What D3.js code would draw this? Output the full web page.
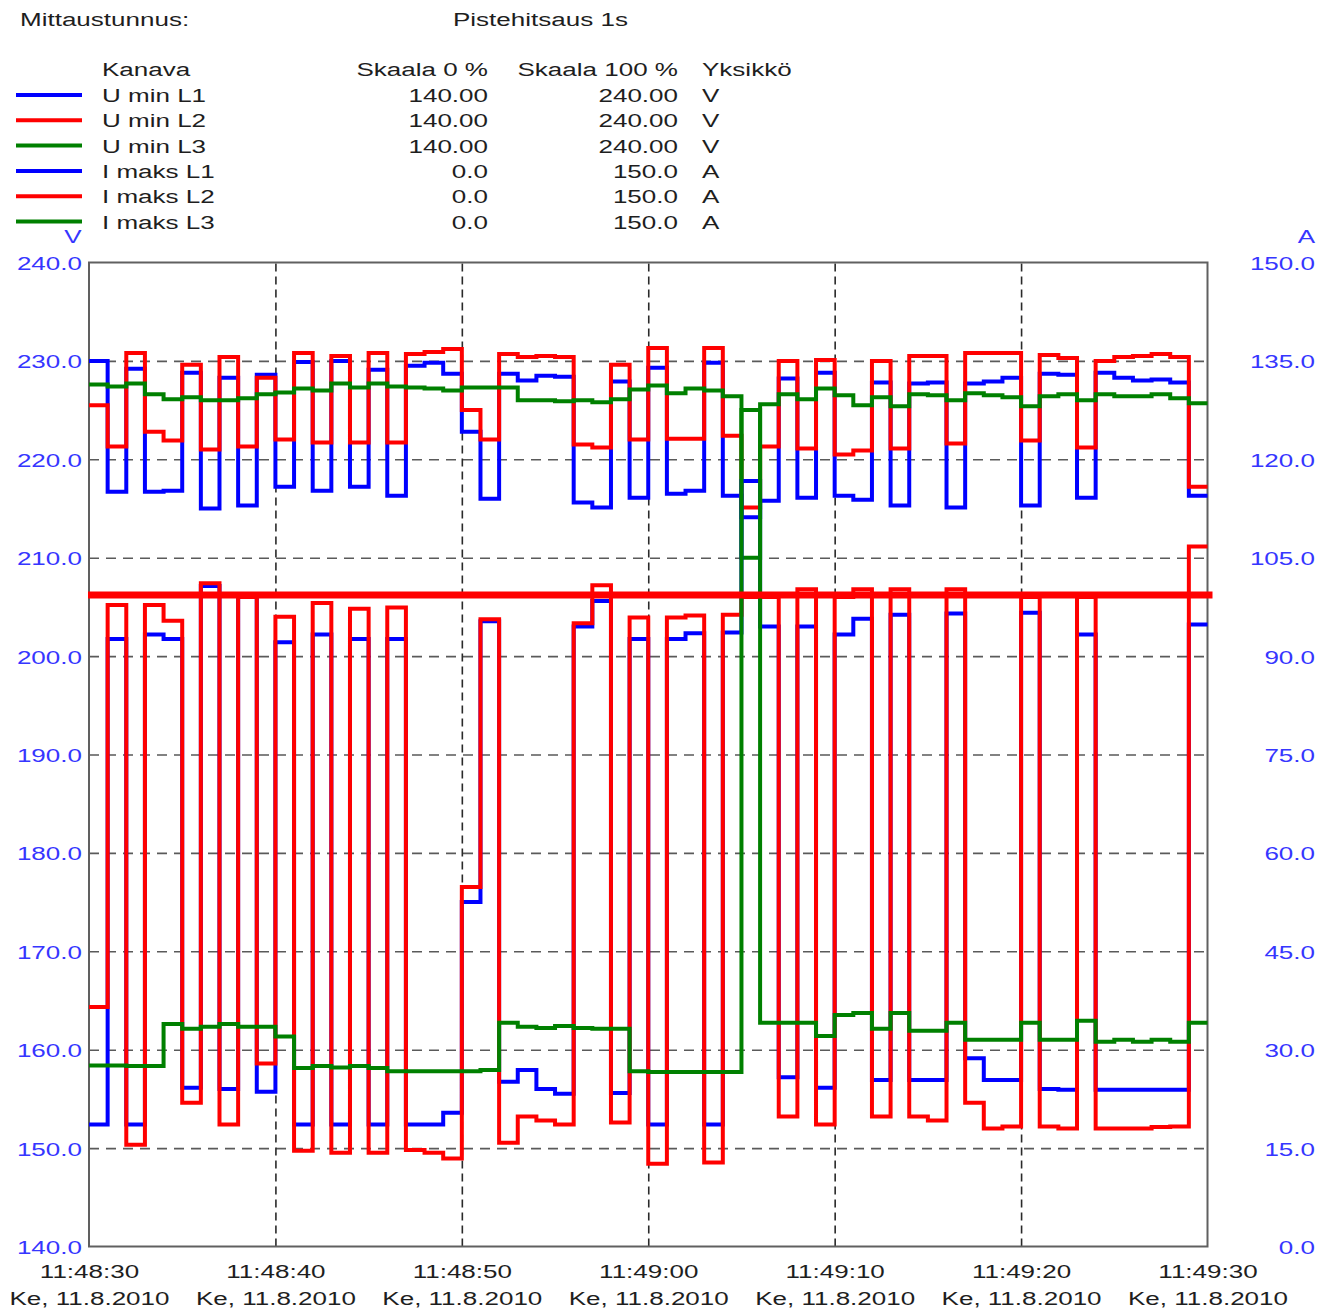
<!DOCTYPE html>
<html>
<head>
<meta charset="utf-8">
<script src="https://cdn.jsdelivr.net/npm/d3@7"></script>
<style>
  body { margin: 0; background: #fff; }
  svg { display: block; font-family: "Liberation Sans", Arial, sans-serif; font-size: 19px; }
</style>
</head>
<body>
<div id="chart"></div>
<script>
// one sample per second, starting 11:48:30
const seconds = d3.range(0, 60);

// voltages (V)
const uMinL1 = [230.0, 216.7, 229.2, 216.7, 216.8, 228.8, 215.0, 228.3, 215.3, 228.6,
  217.2, 229.9, 216.8, 230.0, 217.2, 229.1, 216.3, 229.5, 229.8, 228.7,
  222.8, 216.0, 228.7, 228.0, 228.5, 228.4, 215.6, 215.1, 227.9, 216.1,
  229.3, 216.5, 216.8, 229.8, 216.3, 214.1, 215.8, 228.2, 216.1, 228.8,
  216.3, 215.9, 227.8, 215.3, 227.7, 227.8, 215.1, 227.7, 227.9, 228.3,
  215.3, 228.7, 228.6, 216.1, 228.8, 228.3, 228.0, 228.1, 227.8, 216.3];
const uMinL2 = [225.5, 221.3, 230.8, 222.8, 221.9, 229.6, 221.0, 230.4, 221.3, 228.3,
  222.0, 230.8, 221.7, 230.5, 221.7, 230.8, 221.7, 230.7, 230.9, 231.2,
  225.0, 222.0, 230.7, 230.4, 230.5, 230.4, 221.5, 221.2, 229.6, 222.0,
  231.3, 222.1, 222.1, 231.3, 222.4, 215.1, 221.3, 230.0, 221.1, 230.1,
  220.5, 220.9, 230.0, 221.1, 230.5, 230.5, 221.6, 230.8, 230.8, 230.8,
  221.9, 230.6, 230.3, 221.2, 230.0, 230.4, 230.5, 230.7, 230.4, 217.2];
const uMinL3 = [227.6, 227.4, 227.7, 226.6, 226.1, 226.3, 226.0, 226.0, 226.2, 226.6,
  226.8, 227.2, 227.0, 227.7, 227.3, 227.7, 227.4, 227.3, 227.2, 227.0,
  227.3, 227.3, 227.3, 226.0, 226.0, 225.9, 226.0, 225.8, 226.1, 227.1,
  227.5, 226.7, 227.2, 227.0, 226.4, 210.0, 225.6, 226.6, 226.1, 227.2,
  226.5, 225.5, 226.3, 225.4, 226.6, 226.5, 226.0, 226.7, 226.5, 226.3,
  225.4, 226.4, 226.6, 226.0, 226.6, 226.4, 226.4, 226.6, 226.2, 225.7];

// currents (A)
const iMaksL1 = [18.6, 92.6, 18.6, 93.3, 92.6, 24.2, 100.7, 24.0, 99.0, 23.6,
  92.1, 18.6, 93.3, 18.6, 92.6, 18.6, 92.6, 18.6, 18.6, 20.4,
  52.5, 95.3, 25.1, 26.9, 24.0, 23.3, 94.5, 98.4, 23.4, 92.6,
  18.6, 92.6, 93.5, 18.6, 93.6, 116.7, 94.5, 25.8, 94.5, 24.2,
  93.3, 95.7, 25.4, 96.3, 25.4, 25.4, 96.5, 28.7, 25.4, 25.4,
  96.6, 24.0, 23.9, 93.3, 23.9, 23.9, 23.9, 23.9, 23.9, 94.8];
const iMaksL2 = [36.5, 97.8, 15.5, 97.8, 95.4, 21.9, 101.1, 18.6, 99.0, 27.9,
  96.0, 14.6, 98.1, 14.3, 97.2, 14.3, 97.4, 14.7, 14.3, 13.4,
  54.8, 95.6, 15.8, 19.8, 19.2, 18.6, 95.0, 100.8, 18.9, 95.9,
  12.6, 95.9, 96.2, 12.8, 96.3, 99.0, 99.0, 19.8, 100.2, 18.6,
  99.0, 100.2, 19.8, 100.2, 19.8, 19.2, 100.2, 21.9, 18.0, 18.3,
  99.0, 18.3, 18.0, 99.0, 18.0, 18.0, 18.0, 18.2, 18.3, 106.7];
const iMaksL3 = [27.6, 27.6, 27.5, 27.5, 33.9, 33.2, 33.5, 33.9, 33.5, 33.5,
  32.0, 27.2, 27.5, 27.3, 27.5, 27.2, 26.7, 26.7, 26.7, 26.7,
  26.7, 26.9, 34.1, 33.5, 33.3, 33.6, 33.3, 33.2, 33.2, 26.7,
  26.6, 26.6, 26.6, 26.6, 26.6, 127.5, 34.1, 34.1, 34.1, 32.1,
  35.3, 35.6, 33.2, 35.6, 32.9, 32.9, 34.1, 31.5, 31.5, 31.5,
  34.1, 31.5, 31.5, 34.4, 31.2, 31.5, 31.2, 31.5, 31.2, 34.1];

// red limit line (A)
const limitLevel = [99.3];

// legend table
const channels = ["U min L1", "U min L2", "U min L3", "I maks L1", "I maks L2", "I maks L3"];
const scaleLow = ["140.00", "140.00", "140.00", "0.0", "0.0", "0.0"];
const scaleHigh = ["240.00", "240.00", "240.00", "150.0", "150.0", "150.0"];
const units = ["V", "V", "V", "A", "A", "A"];
const colors = ["#0000ff", "#ff0000", "#008000", "#0000ff", "#ff0000", "#008000"];

const voltTicks = [140, 150, 160, 170, 180, 190, 200, 210, 220, 230, 240];
const ampTicks = [0, 15, 30, 45, 60, 75, 90, 105, 120, 135, 150];

const W = 1323, H = 1311;
const x0 = 89, x1 = 1207.5, y0 = 262.5, y1 = 1246.5;
const sx = 1.37; // text is drawn wide in the original
const axisBlue = "#3636ff";
const fontFamily = '"Liberation Sans", Arial, sans-serif';

const fi = d3.timeFormatLocale({
  dateTime: "%A, %-d. %Bta %Y klo %X", date: "%-d.%-m.%Y", time: "%H:%M:%S",
  periods: ["a.m.", "p.m."],
  days: ["sunnuntai", "maanantai", "tiistai", "keskiviikko", "torstai", "perjantai", "lauantai"],
  shortDays: ["Su", "Ma", "Ti", "Ke", "To", "Pe", "La"],
  months: ["tammikuu", "helmikuu", "maaliskuu", "huhtikuu", "toukokuu", "kesäkuu", "heinäkuu", "elokuu", "syyskuu", "lokakuu", "marraskuu", "joulukuu"],
  shortMonths: ["Tammi", "Helmi", "Maalis", "Huhti", "Touko", "Kesä", "Heinä", "Elo", "Syys", "Loka", "Marras", "Joulu"]
});
const fmtTime = fi.format("%H:%M:%S");
const fmtDay = fi.format("%a, %-d.%-m.%Y");

const t0 = new Date(2010, 7, 11, 11, 48, 30);
const t1 = d3.timeSecond.offset(t0, 60);

const x = d3.scaleTime().domain([t0, t1]).range([x0, x1]);
const yV = d3.scaleLinear().domain([140, 240]).range([y1, y0]);
const yA = d3.scaleLinear().domain([0, 150]).range([y1, y0]);

const svg = d3.select("#chart").append("svg")
  .attr("width", W)
  .attr("height", H);

function label(g, px, py, txt, anchor, color) {
  return g.append("text")
    .attr("transform", `translate(${px},${py}) scale(${sx},1)`)
    .attr("text-anchor", anchor || "start")
    .attr("fill", color || "#1e1e1e")
    .style("font-family", fontFamily)
    .style("font-size", "19px")
    .text(txt);
}

// header
label(svg, 20, 26, "Mittaustunnus:");
label(svg, 453, 26, "Pistehitsaus 1s");

// legend table
label(svg, 102, 76, "Kanava");
label(svg, 488, 76, "Skaala 0 %", "end");
label(svg, 678, 76, "Skaala 100 %", "end");
label(svg, 702, 76, "Yksikkö");
channels.forEach((c, i) => {
  const by = 102 + i * 25.3;
  svg.append("line")
    .attr("x1", 16).attr("x2", 82)
    .attr("y1", by - 7).attr("y2", by - 7)
    .attr("stroke", colors[i])
    .attr("stroke-width", 4);
  label(svg, 102, by, c);
  label(svg, 488, by, scaleLow[i], "end");
  label(svg, 678, by, scaleHigh[i], "end");
  label(svg, 702, by, units[i]);
});

// grid
const gridH = svg.append("g")
  .attr("transform", `translate(${x0},0)`)
  .call(d3.axisLeft(yV).tickValues(voltTicks.slice(1, -1)).tickSize(-(x1 - x0)).tickFormat(""));
gridH.select(".domain").remove();
gridH.selectAll("line")
  .attr("stroke", "#5a5a5a")
  .attr("stroke-width", 1.6)
  .attr("stroke-dasharray", "10,7");

const timeTicks = x.ticks(d3.timeSecond.every(10));
const gridV = svg.append("g")
  .attr("transform", `translate(0,${y1})`)
  .call(d3.axisBottom(x).tickValues(timeTicks.slice(1, -1)).tickSize(-(y1 - y0)).tickFormat(""));
gridV.select(".domain").remove();
gridV.selectAll("line")
  .attr("stroke", "#2a2a2a")
  .attr("stroke-width", 1.6)
  .attr("stroke-dasharray", "8,5");

// frame
svg.append("rect")
  .attr("x", x0).attr("y", y0)
  .attr("width", x1 - x0).attr("height", y1 - y0)
  .attr("fill", "none")
  .attr("stroke", "#606060")
  .attr("stroke-width", 2);

// left axis (V)
const axL = svg.append("g")
  .attr("transform", `translate(${x0},0)`)
  .call(d3.axisLeft(yV).tickValues(voltTicks).tickSize(0).tickFormat(d3.format(".1f")));
axL.select(".domain").remove();
axL.selectAll("text")
  .attr("x", 0).attr("dy", null)
  .attr("transform", `translate(-7,7) scale(${sx},1)`)
  .attr("fill", axisBlue)
  .style("font-size", "19px")
  .style("font-family", fontFamily);
label(svg, 73, 243, "V", "middle", axisBlue);

// right axis (A)
const axR = svg.append("g")
  .attr("transform", `translate(${x1},0)`)
  .call(d3.axisRight(yA).tickValues(ampTicks).tickSize(0).tickFormat(d3.format(".1f")));
axR.select(".domain").remove();
axR.selectAll("text")
  .attr("x", 0).attr("dy", null)
  .attr("text-anchor", "end")
  .attr("transform", `translate(${1315 - x1},7) scale(${sx},1)`)
  .attr("fill", axisBlue)
  .style("font-size", "19px")
  .style("font-family", fontFamily);
label(svg, 1315, 243, "A", "end", axisBlue);

// time axis
const axB = svg.append("g")
  .attr("transform", `translate(0,${y1})`)
  .call(d3.axisBottom(x).tickValues(timeTicks).tickSize(0).tickFormat(""));
axB.select(".domain").remove();
axB.selectAll(".tick").each(function(d) {
  const g = d3.select(this);
  label(g, 0, 31.5, fmtTime(d), "middle");
  label(g, 0, 58.5, fmtDay(d), "middle");
});

// step lines
const stepLine = d3.line()
  .x(d => x(d.t))
  .y(d => d.y)
  .curve(d3.curveStepAfter);

function stepPoints(values, scale) {
  const pts = values.map((v, i) => ({ t: d3.timeSecond.offset(t0, seconds[i]), y: scale(v) }));
  pts.push({ t: t1, y: scale(values[values.length - 1]) });
  return pts;
}

const series = [
  { values: uMinL1, scale: yV, color: colors[0] },
  { values: uMinL2, scale: yV, color: colors[1] },
  { values: uMinL3, scale: yV, color: colors[2] },
  { values: iMaksL1, scale: yA, color: colors[3] },
  { values: iMaksL2, scale: yA, color: colors[4] },
  { values: iMaksL3, scale: yA, color: colors[5] }
];

svg.append("g").selectAll("path")
  .data(series)
  .enter()
  .append("path")
  .attr("d", s => stepLine(stepPoints(s.values, s.scale)))
  .attr("fill", "none")
  .attr("stroke", s => s.color)
  .attr("stroke-width", 4)
  .attr("stroke-linejoin", "miter");

// limit line
svg.append("g").selectAll("line")
  .data(limitLevel)
  .enter()
  .append("line")
  .attr("x1", x0 - 1).attr("x2", x1 + 5)
  .attr("y1", d => yA(d)).attr("y2", d => yA(d))
  .attr("stroke", "#ff0000")
  .attr("stroke-width", 7);
</script>
</body>
</html>
